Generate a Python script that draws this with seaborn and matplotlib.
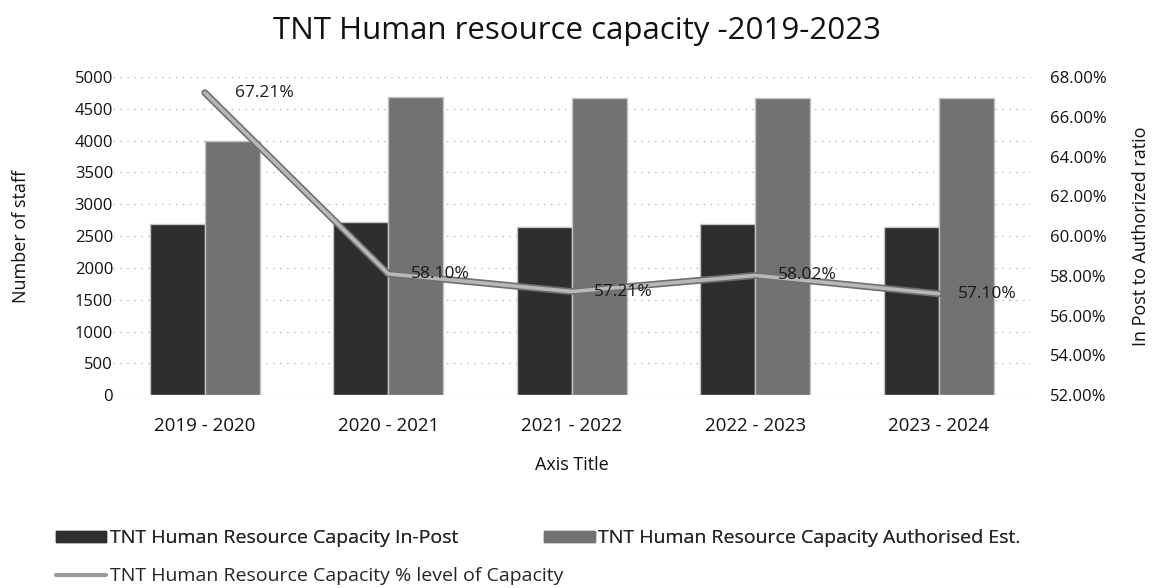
import matplotlib as mpl
mpl.use("Agg")

import matplotlib.pyplot as plt
import seaborn as sns
import pandas as pd
import numpy as np

sns.set_theme(style="white")
plt.rcParams["font.family"] = ["Open Sans", "DejaVu Sans"]

periods = ["2019 - 2020", "2020 - 2021", "2021 - 2022", "2022 - 2023", "2023 - 2024"]
in_post = [2690, 2720, 2650, 2690, 2650]
authorised = [4000, 4690, 4670, 4670, 4670]
capacity_pct = [67.21, 58.10, 57.21, 58.02, 57.10]

lbl_in_post = "TNT Human Resource Capacity In-Post"
lbl_auth = "TNT Human Resource Capacity Authorised Est."
lbl_pct = "TNT Human Resource Capacity % level of Capacity"

bars_df = pd.concat([
    pd.DataFrame({"period": periods, "staff": in_post, "series": lbl_in_post}),
    pd.DataFrame({"period": periods, "staff": authorised, "series": lbl_auth}),
])
pct_df = pd.DataFrame({"pos": range(len(periods)), "pct": capacity_pct})

dark = "#2e2e2e"
light = "#727272"

fig = plt.figure(figsize=(11.54, 5.88), dpi=100)
ax = fig.add_axes([0.098, 0.328, 0.795, 0.541])

sns.barplot(
    ax=ax,
    data=bars_df,
    x="period",
    y="staff",
    hue="series",
    palette=[dark, light],
    width=0.6,
    saturation=1,
    edgecolor="#c4c4c4",
    linewidth=1,
    legend=False,
)

ax.set_ylim(0, 5000)
ax.set_yticks(range(0, 5001, 500))
ax.set_xlim(-0.5, len(periods) - 0.5)
ax.yaxis.grid(True, linestyle=(0, (1, 4)), color="#b8b8b8", linewidth=1)
ax.set_axisbelow(True)
for s in ax.spines.values():
    s.set_visible(False)
ax.tick_params(axis="y", labelsize=12, length=0, colors="#111111", pad=0)
ax.tick_params(axis="x", labelsize=13.5, length=0, colors="#111111", pad=16)
ax.set_xlabel("Axis Title", fontsize=13, labelpad=15, color="#111111")
ax.set_ylabel("Number of staff", fontsize=13, labelpad=32, color="#111111")

ax2 = ax.twinx()
sns.lineplot(ax=ax2, data=pct_df, x="pos", y="pct", color="#6f6f6f", linewidth=5, zorder=3)
sns.lineplot(ax=ax2, data=pct_df, x="pos", y="pct", color="#b8b8b8", linewidth=2.6, zorder=4)
ax2.set_ylim(52, 68)
ax2.set_yticks(np.arange(52, 68.1, 2))
ax2.set_yticklabels([f"{v:.2f}%" for v in np.arange(52, 68.1, 2)])
for s in ax2.spines.values():
    s.set_visible(False)
ax2.tick_params(axis="y", labelsize=12, length=0, colors="#111111", pad=14)
ax2.set_ylabel("In Post to Authorized ratio", fontsize=13, labelpad=18, color="#111111")
ax2.set_xlim(-0.5, len(periods) - 0.5)

offsets = [22, 16, 16, 16, 14]
for i, v in enumerate(capacity_pct):
    ax2.annotate(f"{v:.2f}%", (i, v), xytext=(offsets[i], 0), textcoords="offset points",
                 ha="left", va="center", fontsize=12.5, color="#1a1a1a", zorder=5)

fig.suptitle("TNT Human resource capacity -2019-2023", fontsize=22.5, y=0.972, color="#111111")

# excel-style legend: two items on the first row, the line on the second
leg_kw = dict(frameon=False, fontsize=14, handlelength=2.6, handleheight=0.5, handletextpad=0.2)
leg1 = fig.legend(
    [mpl.patches.Patch(color=dark), mpl.patches.Patch(color=light)],
    [lbl_in_post, lbl_auth],
    ncol=2, loc="upper left", bbox_to_anchor=(0.033, 0.13), columnspacing=4.4, **leg_kw,
)
fig.add_artist(leg1)
fig.legend(
    [mpl.lines.Line2D([], [], color="#9a9a9a", linewidth=3)],
    [lbl_pct],
    loc="upper left", bbox_to_anchor=(0.033, 0.065), **leg_kw,
)

fig.savefig("out.png", dpi=100)
